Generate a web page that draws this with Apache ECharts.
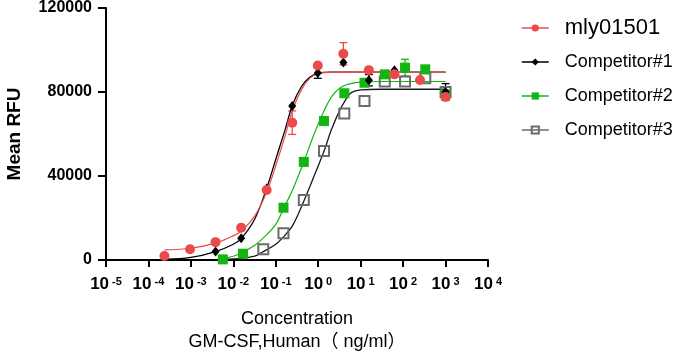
<!DOCTYPE html>
<html>
<head>
<meta charset="utf-8">
<script src="https://cdn.jsdelivr.net/npm/echarts@6/dist/echarts.min.js"></script>
<style>html,body{margin:0;padding:0;background:#fff}#c{width:691px;height:354px}</style>
</head>
<body>
<div id="c"></div>
<script>
// ---- data ----
const FONT = '"Liberation Sans", Arial, "Noto Sans CJK SC", sans-serif';
const xTickExponents = [-5, -4, -3, -2, -1, 0, 1, 2, 3, 4];
const yTicks = [0, 40000, 80000, 120000];

const names = ['mly01501', 'Competitor#1', 'Competitor#2', 'Competitor#3'];

// 4-fold dilution (mly01501, Competitor#1)
const conc4 = [0.000238, 0.000954, 0.00381, 0.0153, 0.061, 0.244, 0.977, 3.91, 15.6, 62.5, 250, 1000];
// 3-fold dilution (Competitor#2, Competitor#3)
const conc3 = [0.00565, 0.0169, 0.0508, 0.152, 0.457, 1.37, 4.12, 12.3, 37.0, 111, 333, 1000];

const redY   = [1900, 5100, 8500, 15400, 33300, 65400, 92600, 98200, 90400, 88400, 85700, 77600];
const redErr = [0, 1200, 0, 0, 0, 5600, 0, 5300, 0, 0, 0, 0];
const blackY   = [null, null, 4000, 10300, 34000, 73300, 89000, 94000, 85600, 90300, null, 80000];
const blackErr = [0, 0, 0, 0, 0, 0, 2500, 0, 2700, 0, 0, 4000];
const greenY   = [300, 3000, null, 24900, 46700, 66200, 79400, 84400, 88400, 91600, 90800, 78900];
const greenErr = [0, 0, 0, 0, 0, 1500, 0, 0, 0, 4000, 0, 0];
const grayY    = [null, null, 5100, 12700, 28600, 51900, 69800, 75700, 85000, 85000, 86500, 80000];
const grayErr  = [0, 0, 0, 0, 0, 0, 0, 0, 0, 0, 0, 0];

// fitted curves
const redCurveX = [0.000238, 0.001, 0.0038, 0.01, 0.0155, 0.032, 0.063, 0.1, 0.16, 0.25, 0.4, 0.63, 1, 2, 4, 1000];
const redCurveY = [4800, 5600, 8000, 11500, 13800, 21000, 33000, 45000, 58000, 71500, 81000, 86500, 88700, 89300, 89300, 89300];
const blackCurveX = [0.000238, 0.001, 0.0038, 0.01, 0.0155, 0.032, 0.063, 0.1, 0.16, 0.25, 0.4, 0.63, 1, 2, 4, 1000];
const blackCurveY = [300, 1200, 4000, 7500, 10300, 19500, 35000, 48000, 61000, 74000, 82500, 87000, 89000, 89500, 89500, 89500];
const greenCurveX = [0.00565, 0.01, 0.017, 0.032, 0.051, 0.1, 0.152, 0.25, 0.457, 0.8, 1.37, 2.2, 4, 10, 30, 1000];
const greenCurveY = [800, 1800, 3800, 7000, 10500, 17000, 24500, 33500, 46700, 60000, 71000, 78500, 83000, 84700, 85000, 85000];
const grayCurveX = [0.00565, 0.01, 0.017, 0.032, 0.049, 0.1, 0.16, 0.25, 0.457, 0.8, 1.38, 2, 3.16, 4.5, 6, 10, 30, 1000];
const grayCurveY = [300, 500, 900, 1800, 3800, 7500, 11500, 16500, 28000, 40000, 52000, 61500, 71000, 76500, 79700, 81000, 81300, 81300];

// ---- styling ----
const RED = '#EC4A4A', BLACK = '#000000', GREEN = '#13B513', GRAY = '#6B6B6B';

function pairs(xs, ys) {
  const out = [];
  xs.forEach((x, i) => { if (ys[i] != null) out.push([x, ys[i]]); });
  return out;
}
function errs(xs, ys, es) {
  const out = [];
  xs.forEach((x, i) => { if (ys[i] != null && es[i] > 0) out.push([x, ys[i], es[i]]); });
  return out;
}
function errSeries(data, color) {
  return {
    type: 'custom', silent: true, data: data, encode: {x: 0, y: 1},
    renderItem: function (params, api) {
      const x = api.value(0), y = api.value(1), e = api.value(2);
      const lo = api.coord([x, y - e]), hi = api.coord([x, y + e]);
      const w = 4;
      const st = {stroke: color, lineWidth: 1.3, fill: null};
      return {type: 'group', children: [
        {type: 'line', shape: {x1: lo[0], y1: lo[1], x2: hi[0], y2: hi[1]}, style: st},
        {type: 'line', shape: {x1: lo[0] - w, y1: lo[1], x2: lo[0] + w, y2: lo[1]}, style: st},
        {type: 'line', shape: {x1: hi[0] - w, y1: hi[1], x2: hi[0] + w, y2: hi[1]}, style: st}
      ]};
    }
  };
}
function curveSeries(xs, ys, color, width) {
  return {type: 'line', silent: true, data: pairs(xs, ys), smooth: 0.35, showSymbol: false,
    lineStyle: {color: color, width: width}, itemStyle: {color: color}};
}
function pointSeries(name, xs, ys, symbol, size, itemStyle) {
  return {type: 'line', name: name, data: pairs(xs, ys), symbol: symbol, symbolSize: size,
    showSymbol: true, lineStyle: {opacity: 0, width: 0}, itemStyle: itemStyle};
}

const chart = echarts.init(document.getElementById('c'), null, {renderer: 'canvas'});
chart.setOption({
  animation: false,
  backgroundColor: '#fff',
  grid: {left: 106, top: 8, width: 382, height: 252, containLabel: false, outerBoundsMode: 'none'},
  xAxis: {
    type: 'log', logBase: 10, min: Math.pow(10, xTickExponents[0]), max: Math.pow(10, xTickExponents[xTickExponents.length - 1]),
    interval: 1,
    axisLine: {lineStyle: {color: '#000', width: 2}},
    axisTick: {show: true, length: 7, lineStyle: {color: '#000', width: 2}},
    splitLine: {show: false},
    axisLabel: {
      margin: 16, color: '#000',
      formatter: function (v) { return '{b|10}{s|' + Math.round(Math.log10(v)) + '}'; },
      rich: {
        b: {fontFamily: FONT, fontWeight: 'bold', fontSize: 17, color: '#000'},
        s: {fontFamily: FONT, fontWeight: 'bold', fontSize: 11, color: '#000', verticalAlign: 'top', padding: [0, 0, 6, 3]}
      }
    },
    name: 'Concentration\nGM-CSF,Human（ ng/ml）', nameLocation: 'middle', nameGap: 48,
    nameTextStyle: {fontFamily: FONT, fontSize: 18, lineHeight: 23, color: '#000'}
  },
  yAxis: {
    type: 'value', min: yTicks[0], max: yTicks[yTicks.length - 1], interval: yTicks[1] - yTicks[0],
    axisLine: {show: true, lineStyle: {color: '#000', width: 2}},
    axisTick: {show: true, length: 8, lineStyle: {color: '#000', width: 2}},
    splitLine: {show: false},
    axisLabel: {margin: 14, fontFamily: FONT, fontWeight: 'bold', fontSize: 16, color: '#000',
      formatter: function (v) { return String(v); }},
    name: 'Mean RFU', nameLocation: 'middle', nameGap: 82,
    nameTextStyle: {fontFamily: FONT, fontWeight: 'bold', fontSize: 19, color: '#000'}
  },
  legend: {
    orient: 'vertical', left: 516, top: 11, itemWidth: 27, itemHeight: 9, itemGap: 10,
    selectedMode: false,
    textStyle: {fontFamily: FONT, fontSize: 18, color: '#000', lineHeight: 24, padding: [0, 0, 0, 11]},
    data: [
      {name: names[0], textStyle: {fontSize: 22, lineHeight: 24, padding: [0, 0, 0, 11]}, lineStyle: {opacity: 1, width: 1.5, color: RED}},
      {name: names[1], lineStyle: {opacity: 1, width: 1.5, color: BLACK}},
      {name: names[2], lineStyle: {opacity: 1, width: 1.5, color: GREEN}},
      {name: names[3], lineStyle: {opacity: 1, width: 1.5, color: GRAY}}
    ]
  },
  series: [
    curveSeries(grayCurveX, grayCurveY, '#1a1a1a', 1.3),
    curveSeries(greenCurveX, greenCurveY, GREEN, 1.2),
    curveSeries(blackCurveX, blackCurveY, BLACK, 1.3),
    curveSeries(redCurveX, redCurveY, RED, 1.2),
    errSeries(errs(conc3, grayY, grayErr), GRAY),
    pointSeries(names[3], conc3, grayY, 'rect', 10, {color: 'rgba(255,255,255,0)', borderColor: GRAY, borderWidth: 2}),
    errSeries(errs(conc3, greenY, greenErr), GREEN),
    pointSeries(names[2], conc3, greenY, 'rect', 10, {color: GREEN}),
    errSeries(errs(conc4, blackY, blackErr), BLACK),
    pointSeries(names[1], conc4, blackY, 'diamond', [8, 10], {color: BLACK}),
    errSeries(errs(conc4, redY, redErr), RED),
    pointSeries(names[0], conc4, redY, 'circle', 10, {color: RED})
  ]
});
</script>
</body>
</html>
